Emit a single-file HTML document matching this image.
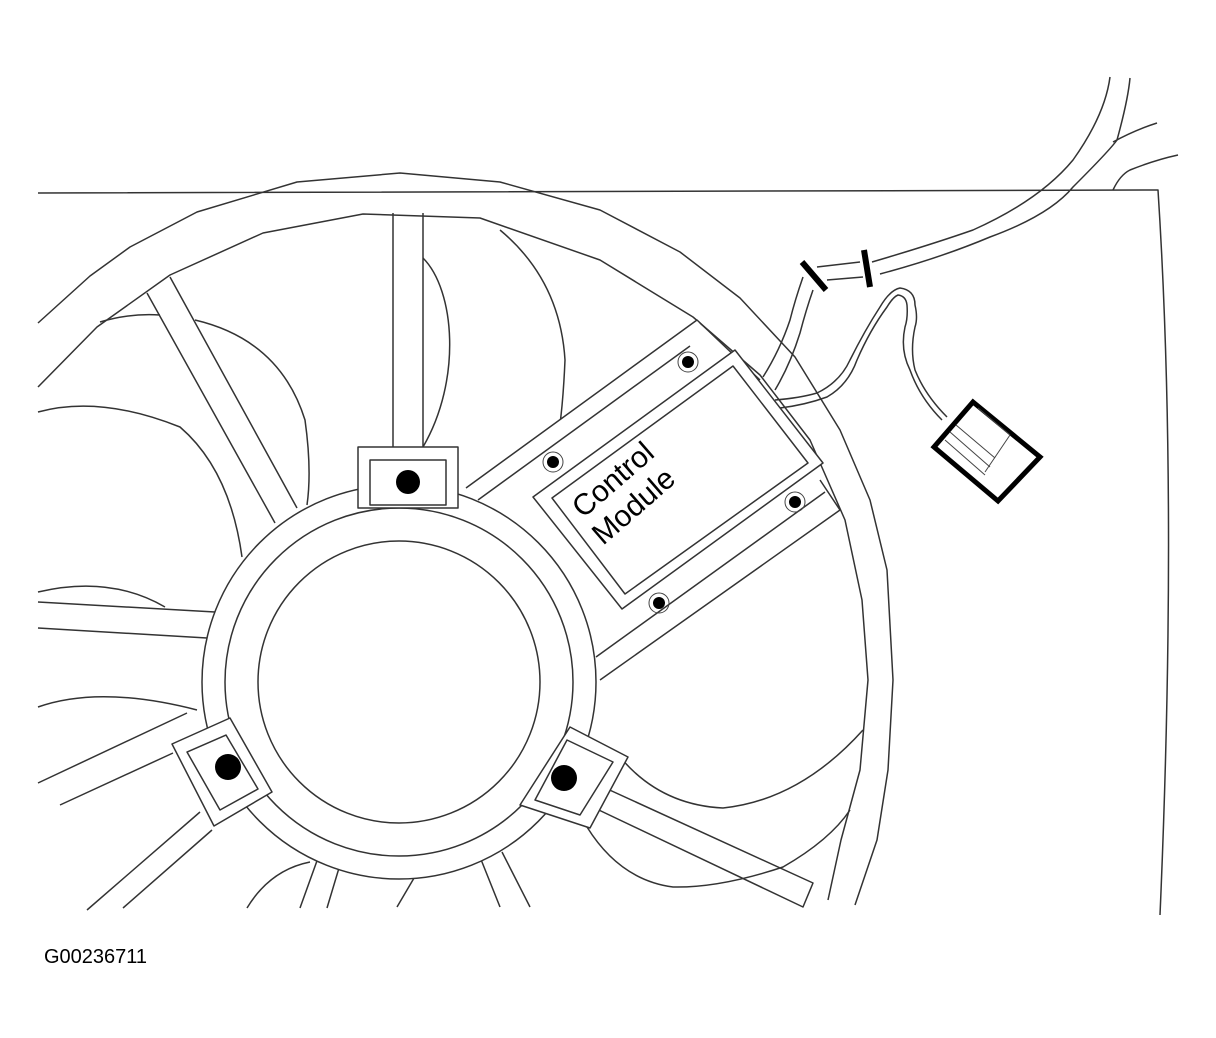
<!DOCTYPE html>
<html><head><meta charset="utf-8"><style>
html,body{margin:0;padding:0;background:#fff;}
svg{display:block;}
</style></head><body>
<svg width="1216" height="1038" viewBox="0 0 1216 1038" xmlns="http://www.w3.org/2000/svg">
<g fill="none" stroke="#333" stroke-width="1.5" stroke-linejoin="round">
<!-- frame -->
<path d="M38 193 L1158 190 Q1178 500 1160 915"/>
<!-- top right wires -->
<path d="M872 262 Q930 245 973 230 Q1040 200 1073 160 Q1105 115 1110 77"/>
<path d="M880 274 Q940 258 990 237 Q1050 215 1073 187 Q1110 150 1117 140 Q1128 100 1130 78"/>
<path d="M1113 142 Q1135 130 1157 123"/>
<path d="M1113 190 Q1120 175 1130 170 Q1155 160 1178 155"/>
<path d="M817 267 L860 262 M827 280 L863 277"/>
<path d="M803 277 Q795 300 790 320 Q780 350 763 377"/>
<path d="M813 290 Q806 310 800 333 Q790 365 775 390"/>
<path d="M775 400 Q800 398 817 393 Q840 382 850 360 Q865 330 880 307 Q890 290 900 288 Q915 290 915 305 Q918 318 915 327 Q910 350 915 370 Q925 395 947 417"/>
<path d="M780 408 Q805 405 827 397 Q848 385 857 360 Q870 330 887 307 Q893 297 898 295 Q906 296 907 305 Q908 318 905 327 Q900 350 910 370 Q920 398 942 420"/>
<!-- shroud -->
<polyline points="38,323 90,276 130,247 197,212 297,182 400,173 500,182 600,210 680,252 740,298 795,357 840,430 870,500 887,570 893,680 888,770 877,840 855,905"/>
<polyline points="38,387 97,327 170,275 263,233 363,214 480,218 600,260 693,317 760,375 810,440 845,520 862,600 868,680 860,770 841,840 828,900"/>
<!-- blades -->
<path d="M100 322 Q130 313 160 315"/>
<path d="M195 320 Q280 340 305 420 Q312 470 307 505"/>
<path d="M38 412 Q100 395 180 427 Q230 470 242 557"/>
<path d="M38 592 Q110 575 165 607"/>
<path d="M38 707 Q100 685 197 710"/>
<path d="M423 258 C455 290 462 380 423 447"/>
<path d="M500 230 Q560 280 565 360 Q562 430 553 460"/>
<path d="M620 757 Q660 805 723 808 Q800 800 863 730"/>
<path d="M587 827 Q620 880 673 887 Q720 888 783 867 Q830 840 850 810"/>
<path d="M247 908 Q270 870 310 862"/>
<path d="M397 907 L417 873"/>
<!-- spokes -->
<path d="M147 293 L275 523 M170 277 L297 508"/>
<path d="M393 213 L393 447 M423 213 L423 447"/>
<path d="M38 602 L215 612 M38 628 L207 638"/>
<path d="M38 783 L187 713 M60 805 L173 753"/>
<path d="M87 910 L200 812 M123 908 L212 830"/>
<path d="M300 908 L318 858 M327 908 L342 858"/>
<path d="M480 857 L500 907 M502 852 L530 907"/>
<path d="M603 787 L813 883 L803 907 L582 802"/>
<!-- plate -->
<polygon points="466,488 697,320 835,508 598,670 500,620" fill="#fff" stroke="none"/>
<path d="M466 488 L697 320 L760 380"/>
<path d="M478 500 L690 346"/>
<path d="M596 657 L825 492"/>
<path d="M600 680 L840 510 L820 480"/>
<!-- hub -->
<circle cx="399" cy="682" r="197" fill="#fff"/>
<circle cx="399" cy="682" r="174"/>
<circle cx="399" cy="682" r="141"/>
<!-- tabs -->
<rect x="358" y="447" width="100" height="61" fill="#fff"/>
<rect x="370" y="460" width="76" height="45"/>
<polygon points="172,744 230,718 272,792 214,826" fill="#fff"/>
<polygon points="187,752 226,735 258,789 220,810"/>
<polygon points="570,727 628,757 590,828 520,805" fill="#fff"/>
<polygon points="567,740 613,762 580,815 535,800"/>
<!-- module -->
<polygon points="533,497 735,350 823,463 622,609" fill="#fff"/>
<polygon points="552,498 733,366 808,463 625,594"/>
</g>
<!-- clips -->
<g stroke="#000" stroke-width="6" fill="none" stroke-linecap="butt">
<line x1="802" y1="262" x2="826" y2="290"/>
<line x1="864" y1="250" x2="870" y2="287"/>
</g>
<polygon points="973,402 1040,457 998,501 934,447" fill="none" stroke="#000" stroke-width="5"/>
<g stroke="#444" stroke-width="1" fill="none">
<line x1="945" y1="440" x2="985" y2="475"/><line x1="950" y1="432" x2="990" y2="467"/><line x1="956" y1="425" x2="995" y2="458"/>
<line x1="978" y1="408" x2="1010" y2="435"/><line x1="1010" y1="435" x2="985" y2="472"/>
</g>
<!-- dots -->
<g fill="#000">
<circle cx="408" cy="482" r="12"/><circle cx="228" cy="767" r="13"/><circle cx="564" cy="778" r="13"/>
<circle cx="688" cy="362" r="6"/><circle cx="553" cy="462" r="6"/><circle cx="795" cy="502" r="6"/><circle cx="659" cy="603" r="6"/>
</g>
<g fill="none" stroke="#444" stroke-width="1">
<circle cx="688" cy="362" r="10"/><circle cx="553" cy="462" r="10"/><circle cx="795" cy="502" r="10"/><circle cx="659" cy="603" r="10"/>
</g>
<text transform="translate(583,519) rotate(-41)" font-family="Liberation Sans, sans-serif" font-size="30" fill="#000">Control</text>
<text transform="translate(603,546) rotate(-41)" font-family="Liberation Sans, sans-serif" font-size="30" fill="#000">Module</text>
<text x="44" y="963" font-family="Liberation Sans, sans-serif" font-size="20" fill="#000">G00236711</text>
</svg>
</body></html>
